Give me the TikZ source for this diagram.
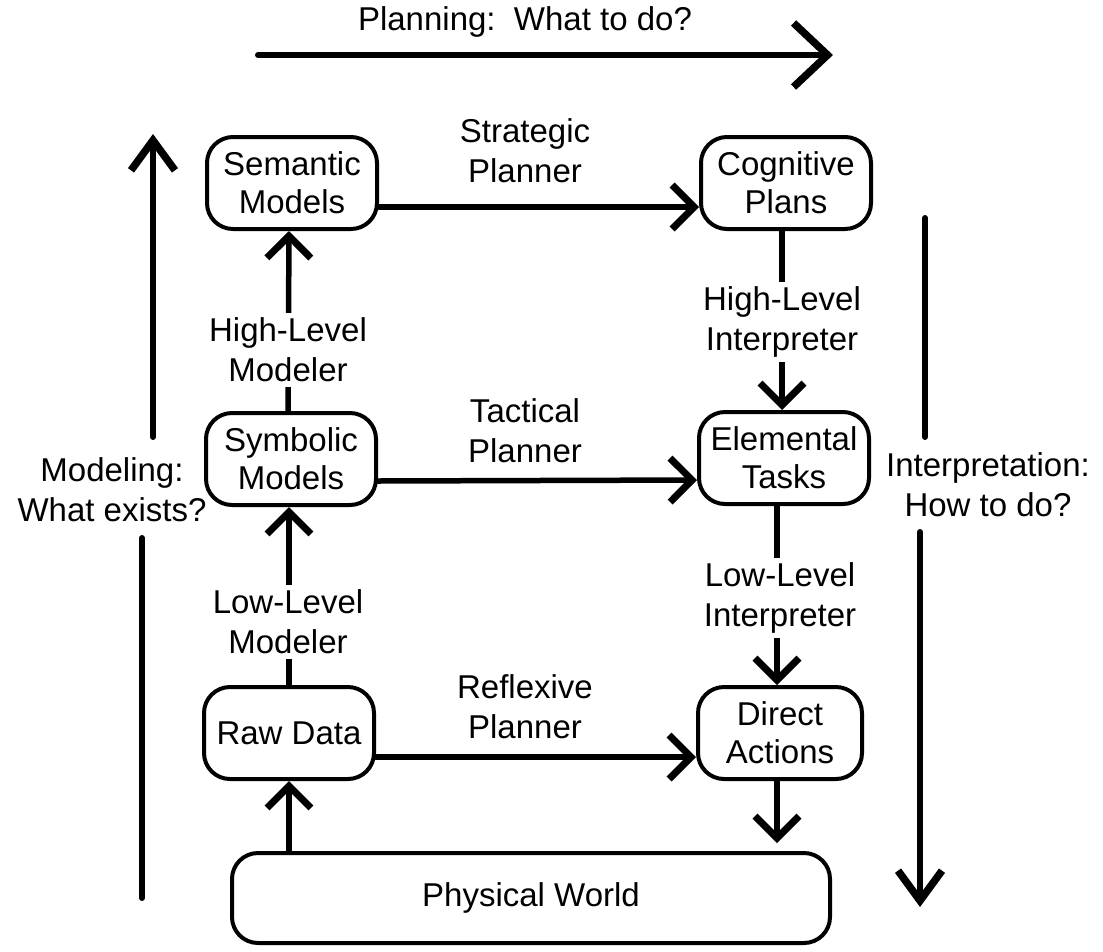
\documentclass[tikz,border=0pt]{standalone}
\usepackage{fontspec}
\setmainfont{Liberation Sans}
\usetikzlibrary{arrows.meta}
\begin{document}
\begin{tikzpicture}[x=1pt,y=-1pt,
  box/.style={draw, line width=4pt, rounded corners=26pt, minimum width=170pt,
    minimum height=92pt, align=center, inner sep=0pt, font=\fontsize{33}{38}\selectfont},
  lbl/.style={align=center, font=\fontsize{33}{40}\selectfont, inner sep=2pt},
  wlbl/.style={lbl, fill=white, inner sep=5pt},
  plain/.style={line width=5.5pt, line cap=round},
  conn/.style={plain, line join=round,
    -{Straight Barb[length=22pt,width=44pt,line width=7pt]}},
  bigline/.style={line width=6pt, line cap=round},
  big/.style={bigline, line join=round,
    -{Straight Barb[length=30pt,width=44pt,line width=7.5pt]}}
]
\useasboundingbox (0,0) rectangle (1103,951);

% levels of representation
\node[box] (sem) at (292,183) {Semantic\\Models};
\node[box] (cog) at (786,183) {Cognitive\\Plans};
\node[box] (sym) at (291,459) {Symbolic\\Models};
\node[box] (ele) at (784,458) {Elemental\\Tasks};
\node[box] (raw) at (289,733) {Raw Data};
\node[box, minimum width=164pt] (dir) at (780,733) {Direct\\Actions};
\node[box, minimum width=598pt, minimum height=90pt] (pw) at (531,898) {Physical World};

% planners
\draw[conn] ([yshift=-24pt]sem.east) -- ([yshift=-24pt]cog.west);
\draw[conn] ([yshift=-22pt]sym.east) -- ([yshift=-22pt]ele.west);
\draw[conn] ([yshift=-24pt]raw.east) -- ([yshift=-24pt]dir.west);
\node[lbl] (sp) at (525,151) {Strategic\\Planner};
\node[lbl] (tp) at (525,431) {Tactical\\Planner};
\node[lbl] (rp) at (525,707) {Reflexive\\Planner};

% modelers
\draw[conn] ([xshift=-3pt]sym.north) -- ([xshift=-3pt]sem.south);
\node[wlbl] (hlm) at (288,350) {High-Level\\Modeler};
\draw[conn] (raw.north) -- ([xshift=-2pt]sym.south);
\node[wlbl] (llm) at (288,622) {Low-Level\\Modeler};
\draw[conn] (raw.south |- pw.north) -- (raw.south);

% interpreters
\draw[conn] ([xshift=-4pt]cog.south) -- ([xshift=-2pt]ele.north);
\node[wlbl] (hli) at (782,322) {High-Level\\Interpreter};
\draw[conn] ([xshift=-7pt]ele.south) -- ([xshift=-3pt]dir.north);
\node[wlbl] (lli) at (780,598) {Low-Level\\Interpreter};
\draw[conn, shorten >=8pt] ([xshift=-3pt]dir.south) -- ([xshift=-3pt]dir.south |- pw.north);

% overall directions: planning
\coordinate (pa) at (258,55);
\coordinate (pb) at (833,55);
\draw[bigline, line join=round,
  -{Straight Barb[length=34pt,width=64pt,line width=7.5pt]}] (pa) -- (pb);
\node[lbl] (plan) at (525,22) {Planning:\ \ What to do?};

% modeling, drawn in two pieces around its label
\coordinate (ma) at (142,898);
\coordinate (mb) at (142,538);
\coordinate (mc) at (153,437);
\coordinate (md) at (153,134);
\draw[bigline] (ma) -- (mb);
\draw[big] (mc) -- (md);
\node[lbl] (mod) at (112,490) {Modeling:\\What exists?};

% interpretation, drawn in two pieces around its label
\coordinate (ia) at (925,218);
\coordinate (ib) at (925,437);
\coordinate (ic) at (920,532);
\coordinate (id) at (920,907);
\draw[bigline] (ia) -- (ib);
\draw[big] (ic) -- (id);
\node[lbl] (int) at (988,485) {Interpretation:\\How to do?};
\end{tikzpicture}
\end{document}
